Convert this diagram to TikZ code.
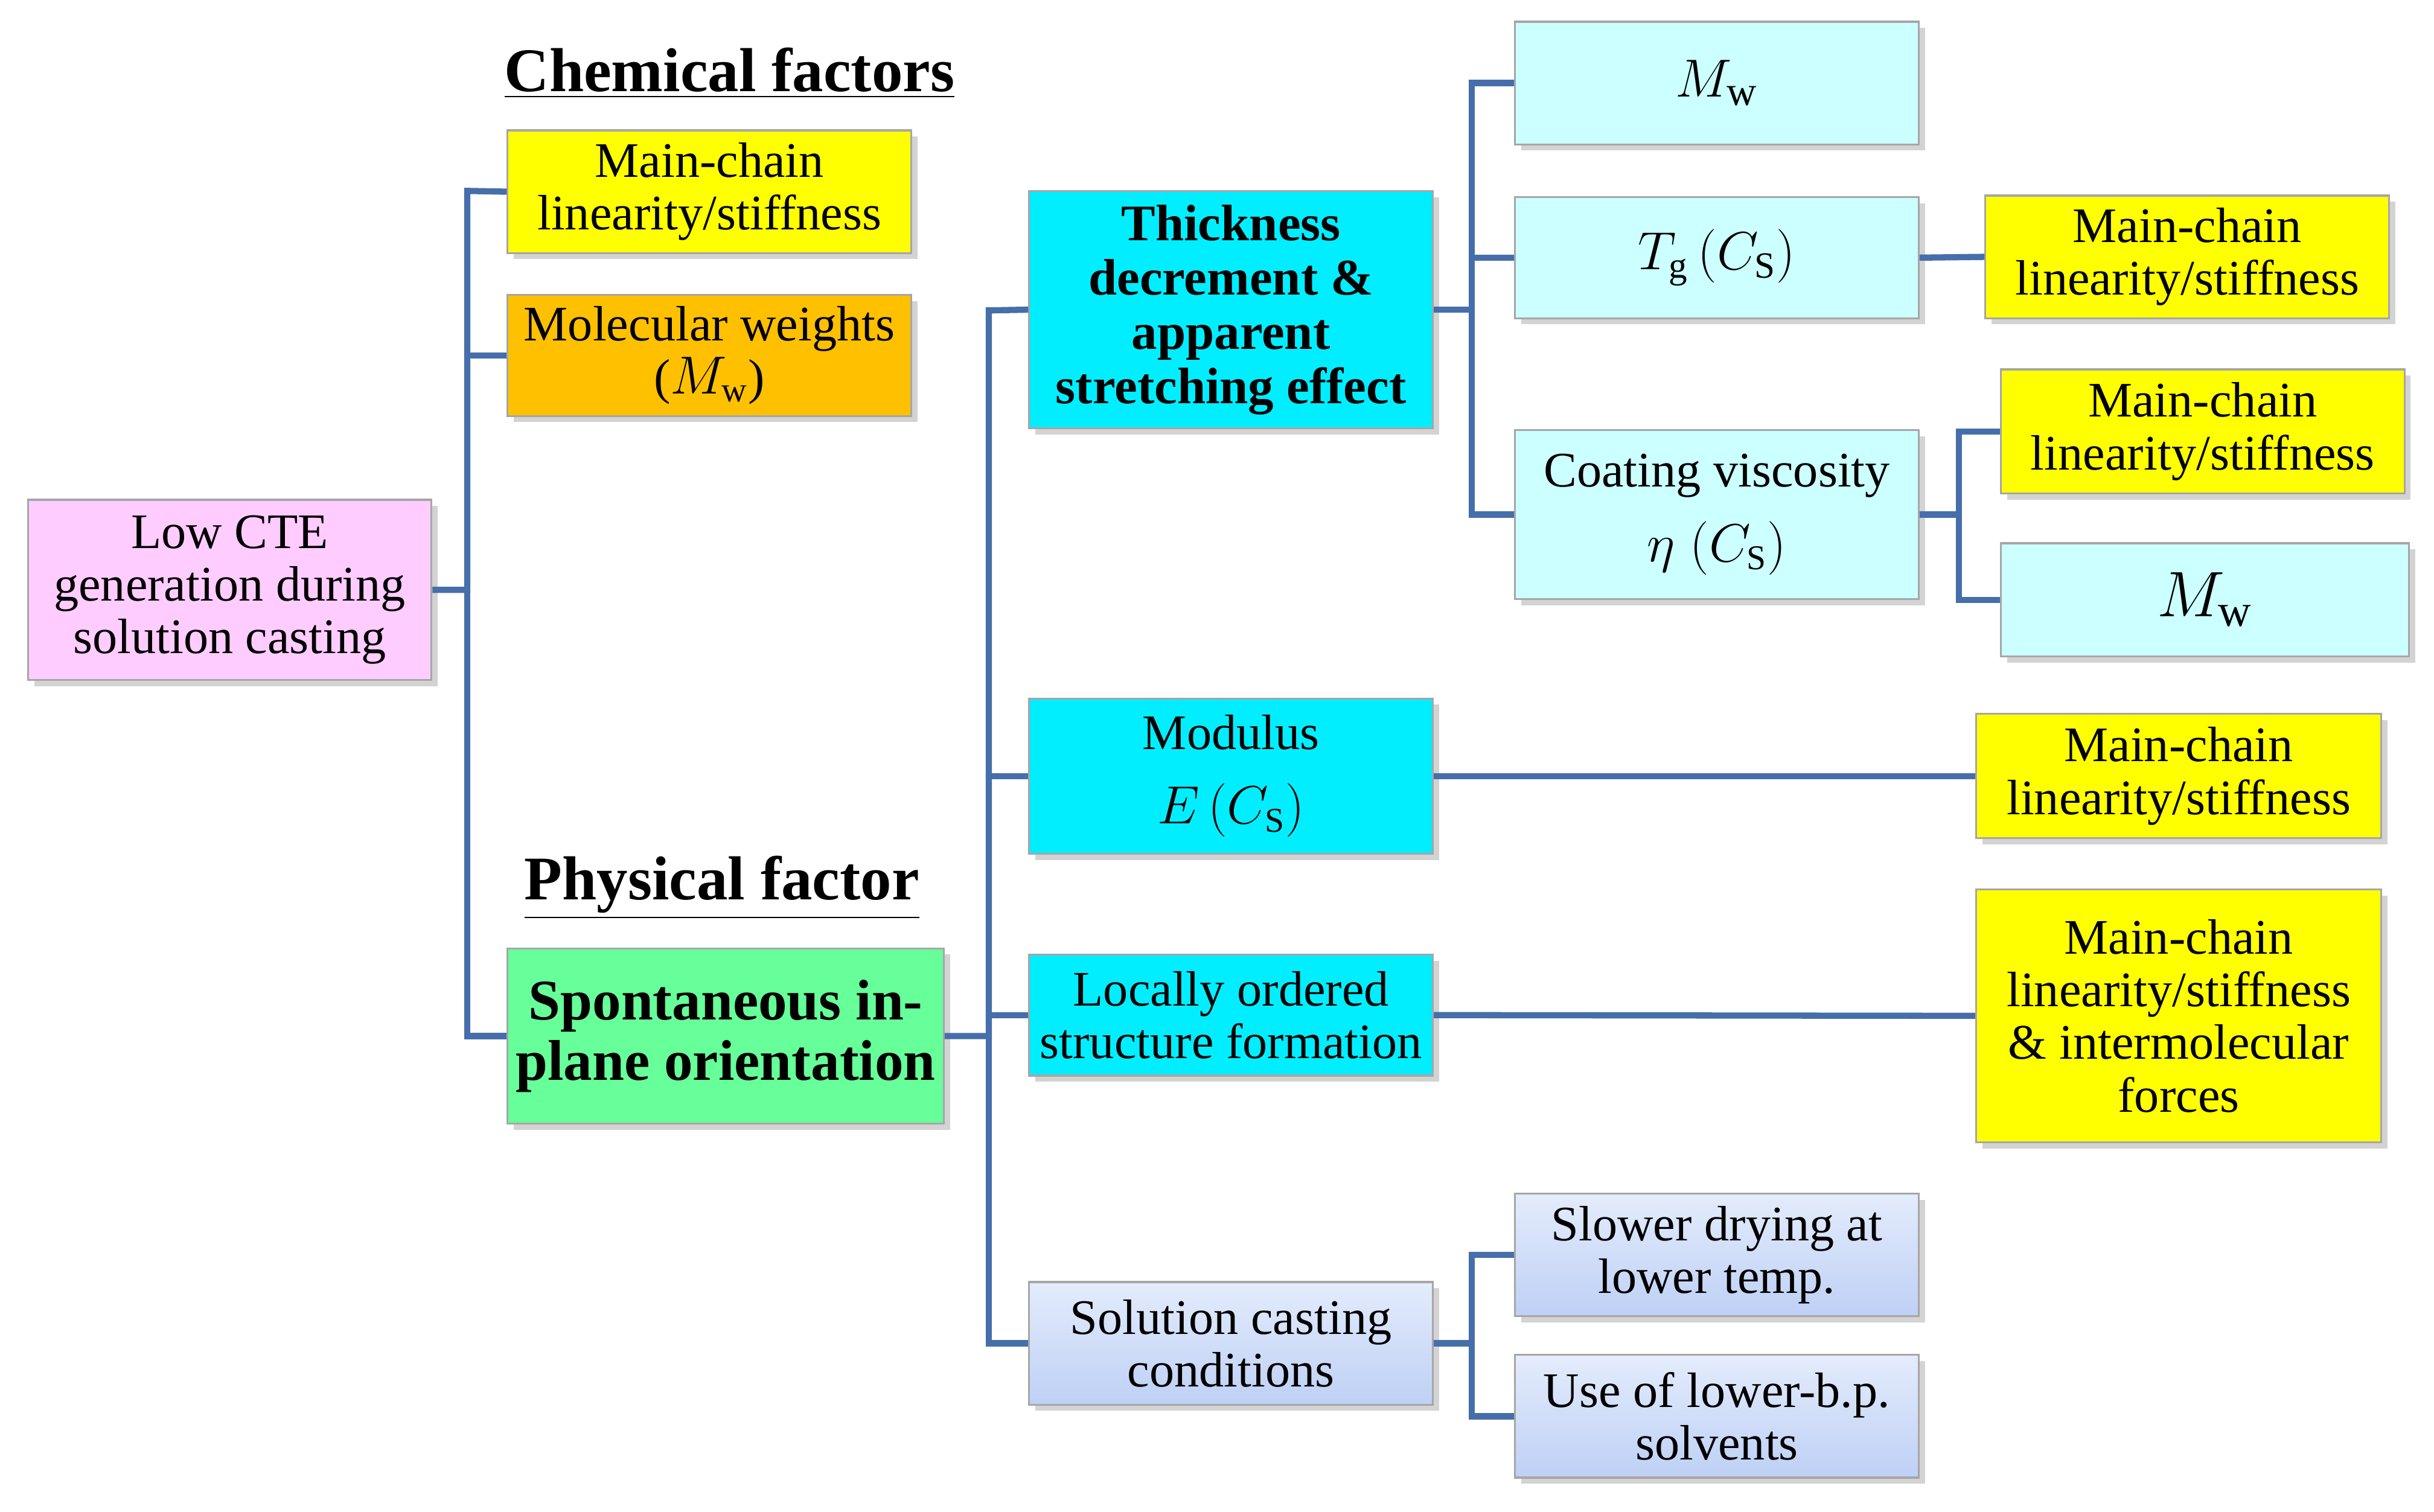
\documentclass[tikz,border=0pt]{standalone}
\usepackage{fontspec}
\setmainfont{Liberation Serif}
\usetikzlibrary{shadows}
\definecolor{pinkb}{RGB}{255,204,255}
\definecolor{yel}{RGB}{255,255,0}
\definecolor{org}{RGB}{255,192,0}
\definecolor{grn}{RGB}{102,255,153}
\definecolor{cy}{RGB}{0,238,255}
\definecolor{lcy}{RGB}{204,255,255}
\definecolor{lb1}{RGB}{228,236,252}
\definecolor{lb2}{RGB}{190,208,245}
\definecolor{ln}{RGB}{70,110,170}
\begin{document}
\begin{tikzpicture}[x=0.5pt,y=-0.5pt,
 box/.style={draw=gray!70,line width=0.6pt,align=center,inner sep=1pt,
   font=\fontsize{16}{17}\selectfont,drop shadow={shadow xshift=2pt,shadow yshift=-2pt,opacity=0.35}},
 conn/.style={draw=ln,line width=2pt}]
\useasboundingbox (0,0) rectangle (1568,974);
% nodes
\node[box,fill=pinkb,minimum width=130pt,minimum height=58pt] (cte) at (148,380) {Low CTE\\generation during\\solution casting};
\node[font=\fontsize{20}{22}\selectfont\bfseries] (chem) at (470,47) {\underline{Chemical factors}};
\node[box,fill=yel,minimum width=130pt,minimum height=39.5pt] (mc1) at (457,123.5) {Main-chain\\linearity/stiffness};
\node[box,fill=org,minimum width=130pt,minimum height=39pt] (mw) at (457,229) {Molecular weights\\($M_\mathrm{w}$)};
\node[font=\fontsize{20}{22}\selectfont\bfseries] (phys) at (465,572) {\underline{Physical factor}};
\node[box,fill=grn,minimum width=140.5pt,minimum height=56.5pt,font=\fontsize{18.5}{19.5}\selectfont\bfseries] (spon) at (467.5,667.5) {Spontaneous in-\\plane orientation};
\node[box,fill=cy,minimum width=130pt,minimum height=76.5pt,font=\fontsize{16.5}{17.5}\selectfont\bfseries] (thk) at (793,199.5) {Thickness\\decrement \&\\apparent\\stretching effect};
\node[box,fill=cy,minimum width=130pt,minimum height=50pt,font=\fontsize{16}{24}\selectfont] (mod) at (793,500) {Modulus\\$E\,(C_\mathrm{S})$};
\node[box,fill=cy,minimum width=130pt,minimum height=39pt] (loc) at (793,654) {Locally ordered\\structure formation};
\node[box,top color=lb1,bottom color=lb2,draw=gray!70,minimum width=130pt,minimum height=39.5pt] (sol) at (793,865.5) {Solution casting\\conditions};
\node[box,fill=lcy,minimum width=130pt,minimum height=39.5pt,font=\fontsize{19}{20}\selectfont] (mwa) at (1106,53.5) {$M_\mathrm{w}$};
\node[box,fill=lcy,minimum width=130pt,minimum height=39pt,font=\fontsize{17}{20}\selectfont] (tg) at (1106,166) {$T_\mathrm{g}\,(C_\mathrm{S})$};
\node[box,fill=lcy,minimum width=130pt,minimum height=54.5pt,font=\fontsize{16}{24}\selectfont] (coat) at (1106,331.5) {Coating viscosity\\$\eta\;(C_\mathrm{S})$};
\node[box,fill=yel,minimum width=130pt,minimum height=39.5pt] (mc2) at (1409,165.5) {Main-chain\\linearity/stiffness};
\node[box,fill=yel,minimum width=130pt,minimum height=40pt] (mc3) at (1419,278) {Main-chain\\linearity/stiffness};
\node[box,fill=lcy,minimum width=131.5pt,minimum height=36.5pt,font=\fontsize{21}{22}\selectfont] (mwb) at (1420.5,386.5) {$M_\mathrm{w}$};
\node[box,fill=yel,minimum width=130.5pt,minimum height=40pt] (mc4) at (1403.5,500) {Main-chain\\linearity/stiffness};
\node[box,fill=yel,minimum width=130.5pt,minimum height=81.5pt] (mc5) at (1403.5,654.5) {Main-chain\\linearity/stiffness\\\& intermolecular\\forces};
\node[box,top color=lb1,bottom color=lb2,draw=gray!70,minimum width=130pt,minimum height=39.5pt] (slow) at (1106,808.5) {Slower drying at\\lower temp.};
\node[box,top color=lb1,bottom color=lb2,draw=gray!70,minimum width=130pt,minimum height=39.5pt] (use) at (1106,912.5) {Use of lower-b.p.\\solvents};
% connectors
\draw[conn] (cte.east) -| (301,123) -- (mc1.west);
\draw[conn] (301,380) |- (mw.west);
\draw[conn] (301,380) |- (spon.west);
\draw[conn] (spon.east) -| (637,200) -- (thk.west);
\draw[conn] (637,667) |- (mod.west);
\draw[conn] (637,654) -- (loc.west);
\draw[conn] (637,667) |- (sol.west);
\draw[conn] (thk.east) -| (948,53.5) -- (mwa.west);
\draw[conn] (948,200) |- (tg.west);
\draw[conn] (948,200) |- (coat.west);
\draw[conn] (tg.east) -- (mc2.west);
\draw[conn] (coat.east) -| (1262,278) -- (mc3.west);
\draw[conn] (1262,331.5) |- (mwb.west);
\draw[conn] (mod.east) -- (mc4.west);
\draw[conn] (loc.east) -- (mc5.west);
\draw[conn] (sol.east) -| (948,808.5) -- (slow.west);
\draw[conn] (948,865.5) |- (use.west);
\end{tikzpicture}
\end{document}
